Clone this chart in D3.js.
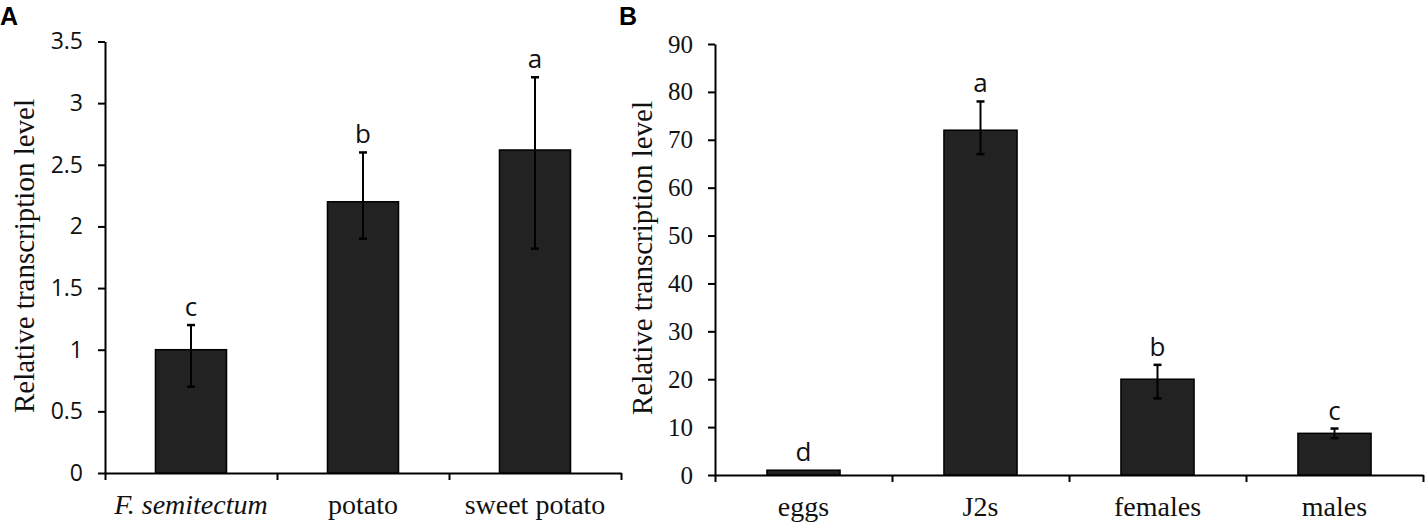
<!DOCTYPE html>
<html>
<head>
<meta charset="utf-8">
<script src="https://cdn.jsdelivr.net/npm/d3@7"></script>
<style>
  body { margin: 0; background: #fff; }
  svg { display: block; }
</style>
</head>
<body>
<svg id="chart" width="1427" height="525"></svg>
<script>
// Panel A: host plants
var catsA = ["F. semitectum", "potato", "sweet potato"],
    valsA = [1.0, 2.2, 2.62],
    lowA = [0.7, 1.9, 1.82],
    highA = [1.2, 2.6, 3.21],
    lettersA = ["c", "b", "a"],
    ticksA = [0, 0.5, 1, 1.5, 2, 2.5, 3, 3.5];

// Panel B: life stages
var catsB = ["eggs", "J2s", "females", "males"],
    valsB = [1.0, 72, 20, 8.7],
    lowB = [1.0, 67, 16, 7.7],
    highB = [1.0, 78, 23, 9.7],
    lettersB = ["d", "a", "b", "c"],
    ticksB = [0, 10, 20, 30, 40, 50, 60, 70, 80, 90];

var svg = d3.select("#chart");

/** Draws one bar panel */
function panel(o) {
  var g = svg.append("g");
  var n = o.cats.length;

  var y = d3.scaleLinear().domain([0, o.max]).range([o.bottom, o.top]);
  var x = d3.scaleBand().domain(o.cats).range([o.left, o.right])
      .paddingInner(0.587).paddingOuter(0.2935);
  var slots = d3.scaleLinear().domain([0, n]).range([o.left, o.right]);

  // y axis
  var ya = g.append("g")
      .attr("transform", "translate(" + o.left + ",0)")
      .call(d3.axisLeft(y).tickValues(o.ticks).tickSize(7).tickSizeOuter(0)
        .tickPadding(15).tickFormat(d3.format("")));
  ya.selectAll("text")
      .style("font-family", o.tickFont)
      .style("font-size", o.tickSize + "px")
      .attr("fill", "#111");

  // x axis: boundary ticks
  g.append("g")
      .attr("transform", "translate(0," + o.bottom + ")")
      .call(d3.axisBottom(slots).ticks(n).tickSize(7).tickSizeOuter(0).tickFormat(""));

  g.selectAll(".domain, .tick line")
      .attr("stroke", "#000")
      .attr("stroke-width", 2);

  // x labels
  g.selectAll(".xlab")
      .data(o.cats)
      .enter()
    .append("text")
      .attr("x", function(d) { return x(d) + x.bandwidth() / 2; })
      .attr("y", o.bottom + 41)
      .attr("text-anchor", "middle")
      .style("font-family", "'Liberation Serif', 'Times New Roman', serif")
      .style("font-size", "28px")
      .style("font-style", function(d, i) { return o.italic && i == 0 ? "italic" : "normal"; })
      .attr("fill", "#111")
      .text(function(d) { return d; });

  // bars
  g.selectAll("rect")
      .data(o.vals)
      .enter()
    .append("rect")
      .attr("x", function(d, i) { return x(o.cats[i]); })
      .attr("y", function(d) { return y(d); })
      .attr("width", x.bandwidth())
      .attr("height", function(d) { return y(0) - y(d); })
      .attr("fill", "#222")
      .attr("stroke", "#000")
      .attr("stroke-width", 1.5);

  // error bars
  var cx = function(i) { return x(o.cats[i]) + x.bandwidth() / 2; };
  o.vals.forEach(function(v, i) {
    if (o.high[i] == o.low[i]) return;
    g.append("line")
        .attr("x1", cx(i)).attr("x2", cx(i))
        .attr("y1", y(o.low[i])).attr("y2", y(o.high[i]))
        .attr("stroke", "#000").attr("stroke-width", 2);
    [o.low[i], o.high[i]].forEach(function(e) {
      g.append("line")
          .attr("x1", cx(i) - 4).attr("x2", cx(i) + 4)
          .attr("y1", y(e)).attr("y2", y(e))
          .attr("stroke", "#000").attr("stroke-width", 2.5);
    });
  });

  // significance letters
  g.selectAll(".sig")
      .data(o.letters)
      .enter()
    .append("text")
      .attr("x", function(d, i) { return cx(i); })
      .attr("y", function(d, i) { return y(Math.max(o.high[i], o.vals[i])) - 9; })
      .attr("text-anchor", "middle")
      .style("font-family", "'Open Sans', 'Liberation Sans', sans-serif")
      .style("font-size", "26px")
      .attr("fill", "#111")
      .text(function(d) { return d; });

  // axis title
  g.append("text")
      .attr("transform", "translate(" + o.titleX + "," + o.titleY + ") rotate(-90)")
      .attr("text-anchor", "middle")
      .style("font-family", "'Liberation Serif', 'Times New Roman', serif")
      .style("font-size", "29px")
      .attr("fill", "#111")
      .text("Relative transcription level");

  // panel label
  g.append("text")
      .attr("x", o.labelX)
      .attr("y", 25)
      .style("font-family", "'Liberation Sans', Arial, sans-serif")
      .style("font-size", "25px")
      .style("font-weight", "bold")
      .text(o.label);
}

panel({
  cats: catsA, vals: valsA, low: lowA, high: highA, letters: lettersA,
  ticks: ticksA, max: 3.5, left: 105, right: 621, top: 41.5, bottom: 473,
  tickFont: "'Open Sans', 'Liberation Sans', sans-serif", tickSize: 23,
  italic: true, titleX: 34, titleY: 256, label: "A", labelX: 0
});

panel({
  cats: catsB, vals: valsB, low: lowB, high: highB, letters: lettersB,
  ticks: ticksB, max: 90, left: 715, right: 1423, top: 44, bottom: 475,
  tickFont: "'Liberation Serif', 'Times New Roman', serif", tickSize: 25,
  italic: false, titleX: 652, titleY: 258, label: "B", labelX: 619
});
</script>
</body>
</html>
